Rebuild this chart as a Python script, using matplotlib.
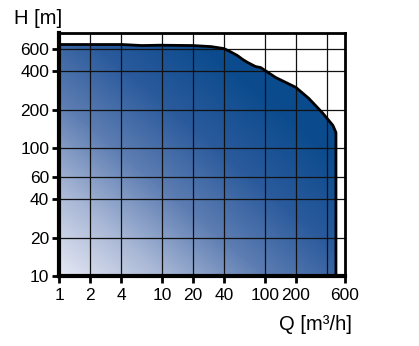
import numpy as np
import matplotlib
matplotlib.use("Agg")
import matplotlib.pyplot as plt
from matplotlib.patches import Polygon
from matplotlib.colors import LinearSegmentedColormap
from matplotlib.ticker import NullLocator, FixedLocator, FixedFormatter

# Envelope of the pump performance range (Q in m3/h, H in m)
q_env = [1, 4.1, 6.4, 9.6, 20, 30, 40, 46, 54, 61, 68, 81, 91, 127, 200, 267, 366, 458, 490]
h_env = [650, 650, 638, 642, 638, 626, 604, 572, 533, 496, 470, 437, 429, 359, 300, 246, 188, 151, 133]
h_floor = 10

x_ticks = [1, 2, 4, 10, 20, 40, 100, 200, 600]
x_ticklabels = ["1", "2", "4", "10", "20", "40", "100", "200", "600"]
x_grid = [2, 4, 10, 20, 40, 100, 200, 400]
y_ticks = [10, 20, 40, 60, 100, 200, 400, 600]
y_ticklabels = ["10", "20", "40", "60", "100", "200", "400", "600"]
y_grid = [20, 40, 60, 100, 200, 400, 600]

fam = ["Liberation Sans", "DejaVu Sans"]

fig = plt.figure(figsize=(4.19, 3.46), dpi=100)
ax = fig.add_axes([59/419, 70/346, 286/419, 243/346])
ax.set_xscale("log")
ax.set_yscale("log")
ax.set_xlim(1, 600)
ax.set_ylim(10, 800)

# polygon of the envelope
verts = [(q_env[0], h_floor)] + list(zip(q_env, h_env)) + [(q_env[-1], h_floor)]
poly = Polygon(verts, closed=True, facecolor="none", edgecolor="none", transform=ax.transData)
ax.add_patch(poly)

# diagonal gradient
cmap = LinearSegmentedColormap.from_list(
    "pump", ["#e6e8f4", "#a9b8d6", "#5d7db2", "#2a5a9c", "#0c4c8e", "#064a8b"])
n = 300
u = np.linspace(0, 1, n)
U, V = np.meshgrid(u, u)
T = np.clip((U + V) / 1.8, 0, 1)
im = ax.imshow(T, cmap=cmap, origin="lower", extent=[0, 1, 0, 1],
               transform=ax.transAxes, aspect="auto", zorder=1, interpolation="bilinear")
im.set_clip_path(poly)

# grid
for gx in x_grid:
    ax.axvline(gx, color="#111111", lw=0.9, zorder=2)
for gy in y_grid:
    ax.axhline(gy, color="#111111", lw=0.9, zorder=2)

# outline of the envelope
ax.plot(list(q_env) + [q_env[-1]], list(h_env) + [h_floor], color="black", lw=2.0,
        zorder=3, solid_joinstyle="round", solid_capstyle="round")

ax.xaxis.set_major_locator(FixedLocator(x_ticks))
ax.xaxis.set_major_formatter(FixedFormatter(x_ticklabels))
ax.xaxis.set_minor_locator(NullLocator())
ax.yaxis.set_major_locator(FixedLocator(y_ticks))
ax.yaxis.set_major_formatter(FixedFormatter(y_ticklabels))
ax.yaxis.set_minor_locator(NullLocator())

ax.tick_params(axis="both", which="major", direction="out", length=5, width=2,
               labelsize=12.5, color="black")
ax.tick_params(axis="x", pad=4)
ax.tick_params(axis="y", pad=2)
for lab in ax.get_xticklabels() + ax.get_yticklabels():
    lab.set_family(fam)

ax.spines["left"].set_linewidth(3)
ax.spines["bottom"].set_linewidth(3)
ax.spines["top"].set_linewidth(2)
ax.spines["right"].set_linewidth(2)
for s in ax.spines.values():
    s.set_zorder(5)

fig.text(14/419, 1 - 18/346, "H [m]", family=fam, fontsize=14.5, va="center", ha="left")
fig.text(352/419, 1 - 325/346, "Q [m³/h]", family=fam, fontsize=14.5, va="center", ha="right")

fig.savefig("out.png", dpi=100)
